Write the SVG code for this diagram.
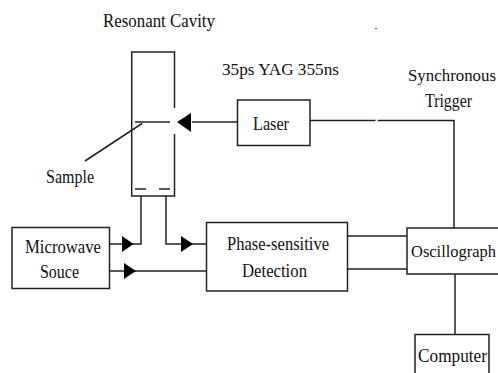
<svg xmlns="http://www.w3.org/2000/svg" width="498" height="373" viewBox="0 0 498 373">
<style>
.l{fill:none;stroke:#222;stroke-width:1.5}
.b{fill:#fff;stroke:#222;stroke-width:1.5}
.a{fill:#000}
.t{font-family:"Liberation Serif",serif;font-size:18px;fill:#111}
.s{font-size:16.500px}
</style>
<rect width="498" height="373" fill="#fff"/>
<g id="connectors">
<path class="l" d="M142 123.500L85 161"/>
<path class="l" d="M135 122H170"/>
<path class="l" d="M192 122H237"/>
<polygon class="a" points="177,122 191,113 191,132"/>
<path class="l" d="M310 120.500H375.500M377.500 120.500H454V228"/>
<path class="l" d="M141 196V244H110"/>
<polygon class="a" points="133.500,244 122,236 122,252"/>
<path class="l" d="M166 196V244H206"/>
<polygon class="a" points="193,244 181,236 181,252"/>
<path class="l" d="M110 271H206"/>
<polygon class="a" points="136,271 124,263 124,279"/>
<path class="l" d="M347 236H407M347 269H407"/>
<path class="l" d="M455 274V334"/>
<circle cx="376" cy="28.500" r="0.800" fill="#333"/>
</g>
<g id="cavity">
<path class="l" d="M174.500 108V52H131.700V196H174.500V134"/>
<path class="l" d="M135 189H146M159 189H170"/>
<text class="t" x="103" y="27" textLength="112" lengthAdjust="spacingAndGlyphs">Resonant Cavity</text>
</g>
<g id="sample"><text class="t" x="46" y="183" textLength="48" lengthAdjust="spacingAndGlyphs">Sample</text></g>
<g id="yag"><text class="t" x="222" y="75" textLength="117" lengthAdjust="spacingAndGlyphs" style="font-size:16px">35ps YAG 355ns</text></g>
<g id="laser">
<rect class="b" x="237.500" y="100" width="72.500" height="45.500"/>
<text class="t" x="253" y="130" textLength="36" lengthAdjust="spacingAndGlyphs">Laser</text>
</g>
<g id="trigger">
<text class="t s" x="408" y="81" textLength="88" lengthAdjust="spacingAndGlyphs">Synchronous</text>
<text class="t" x="425" y="107" textLength="47" lengthAdjust="spacingAndGlyphs">Trigger</text>
</g>
<g id="microwave">
<rect class="b" x="12" y="227.500" width="97.500" height="61"/>
<text class="t" x="25" y="253" textLength="76" lengthAdjust="spacingAndGlyphs">Microwave</text>
<text class="t" x="40" y="278" textLength="39" lengthAdjust="spacingAndGlyphs">Souce</text>
</g>
<g id="detection">
<rect class="b" x="206.500" y="222.500" width="141" height="68.500"/>
<text class="t" x="227" y="250" textLength="102" lengthAdjust="spacingAndGlyphs">Phase-sensitive</text>
<text class="t" x="242" y="277" textLength="65" lengthAdjust="spacingAndGlyphs">Detection</text>
</g>
<g id="oscillograph">
<path class="b" d="M499 228H407V274H499"/>
<text class="t s" x="411" y="257" textLength="85" lengthAdjust="spacingAndGlyphs">Oscillograph</text>
</g>
<g id="computer">
<path class="b" d="M415 374V334.500H489V374"/>
<text class="t" x="418" y="362" textLength="69" lengthAdjust="spacingAndGlyphs">Computer</text>
</g>
</svg>
